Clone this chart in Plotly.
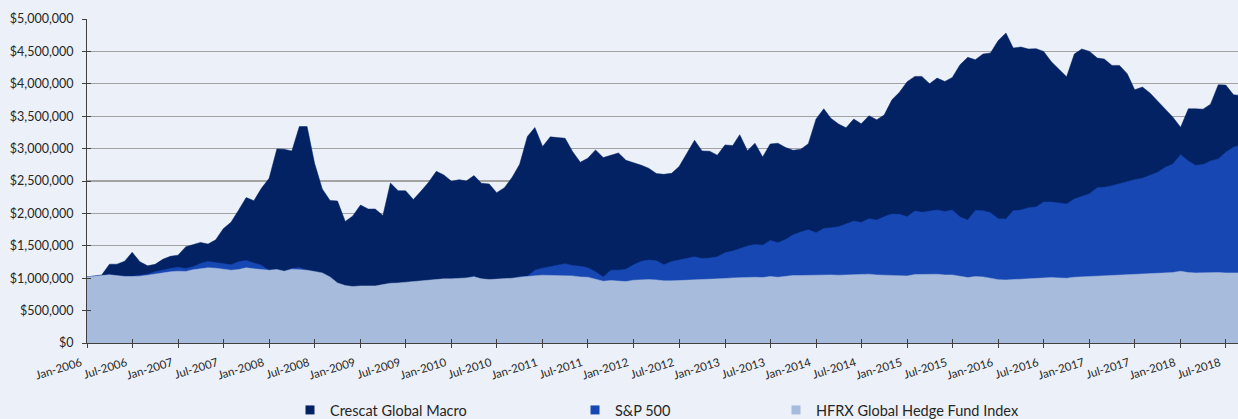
import pandas as pd
import plotly.graph_objects as go

# Monthly observations, Jan-2006 .. Sep-2018 (values in $ thousands)
months = pd.date_range("2006-01-01", periods=153, freq="MS")

crescat_k = [
    1020, 1031, 1050, 1216, 1216, 1263, 1400, 1253, 1191, 1214,
    1292, 1337, 1356, 1485, 1515, 1552, 1526, 1593, 1763, 1863,
    2052, 2245, 2196, 2387, 2541, 2995, 2990, 2964, 3340, 3340,
    2773, 2376, 2201, 2191, 1876, 1959, 2129, 2067, 2067, 1969,
    2469, 2351, 2348, 2214, 2346, 2480, 2650, 2593, 2495, 2521,
    2500, 2583, 2464, 2454, 2320, 2397, 2557, 2758, 3186, 3325,
    3031, 3181, 3170, 3160, 2954, 2789, 2851, 2980, 2861, 2892,
    2933, 2820, 2784, 2742, 2696, 2614, 2603, 2619, 2722, 2923,
    3129, 2964, 2959, 2897, 3057, 3047, 3215, 2966, 3083, 2870,
    3070, 3083, 3016, 2975, 2990, 3075, 3458, 3614, 3469, 3380,
    3320, 3456, 3382, 3508, 3444, 3518, 3753, 3868, 4033, 4114,
    4114, 4000, 4088, 4036, 4098, 4294, 4408, 4371, 4459, 4475,
    4667, 4784, 4552, 4568, 4537, 4542, 4500, 4340, 4227, 4108,
    4459, 4537, 4500, 4397, 4381, 4284, 4284, 4155, 3908, 3949,
    3856, 3737, 3598, 3485, 3328, 3614, 3614, 3609, 3686, 3985,
    3980, 3830, 3820,
]

sp500_k = [
    1020, 1030, 1035, 1055, 1037, 1027, 1028, 1045, 1062, 1098,
    1129, 1150, 1170, 1150, 1175, 1227, 1258, 1237, 1217, 1206,
    1253, 1273, 1235, 1201, 1120, 1130, 1100, 1150, 1165, 1115,
    1095, 1000, 880, 780, 720, 725, 690, 610, 650, 710,
    750, 760, 810, 835, 870, 900, 890, 910, 875, 900,
    985, 1031, 950, 890, 945, 880, 955, 1021, 1031, 1124,
    1155, 1180, 1191, 1222, 1196, 1185, 1160, 1098, 1020, 1124,
    1124, 1139, 1206, 1263, 1279, 1268, 1206, 1258, 1279, 1310,
    1330, 1304, 1310, 1330, 1392, 1418, 1459, 1495, 1521, 1510,
    1583, 1547, 1598, 1670, 1712, 1748, 1701, 1768, 1779, 1794,
    1835, 1882, 1861, 1918, 1897, 1949, 1990, 1985, 1949, 2036,
    2016, 2031, 2052, 2031, 2052, 1944, 1897, 2046, 2041, 2010,
    1918, 1913, 2041, 2052, 2088, 2098, 2175, 2175, 2165, 2144,
    2221, 2263, 2304, 2397, 2402, 2428, 2459, 2480, 2521, 2541,
    2583, 2634, 2712, 2763, 2907, 2809, 2742, 2753, 2809, 2840,
    2943, 3021, 3057,
]

hfrx_k = [
    1020, 1025, 1040, 1052, 1036, 1026, 1026, 1030, 1046, 1067,
    1082, 1098, 1108, 1103, 1129, 1150, 1160, 1155, 1145, 1124,
    1134, 1160, 1145, 1134, 1124, 1134, 1108, 1139, 1134, 1124,
    1103, 1082, 1020, 927, 886, 871, 881, 876, 881, 901,
    922, 927, 937, 952, 969, 974, 985, 990, 990, 995,
    1005, 1021, 990, 979, 985, 990, 1000, 1015, 1021, 1036,
    1046, 1046, 1041, 1041, 1035, 1020, 1015, 985, 954, 964,
    954, 948, 969, 979, 979, 974, 959, 959, 964, 969,
    969, 969, 974, 979, 995, 1005, 1010, 1020, 1015, 1010,
    1026, 1015, 1031, 1041, 1041, 1046, 1046, 1057, 1051, 1046,
    1051, 1057, 1057, 1062, 1051, 1046, 1043, 1040, 1035, 1056,
    1061, 1061, 1061, 1051, 1051, 1030, 1009, 1025, 1020, 999,
    978, 973, 978, 984, 994, 994, 1009, 1009, 1005, 1000,
    1015, 1020, 1031, 1041, 1041, 1046, 1051, 1051, 1062, 1067,
    1072, 1077, 1082, 1087, 1108, 1087, 1082, 1087, 1087, 1087,
    1082, 1082, 1082,
]

series_names = ["Crescat Global Macro", "S&P 500", "HFRX Global Hedge Fund Index"]
series_values = [crescat_k, sp500_k, hfrx_k]
series_colors = ["#022264", "#1747B2", "#A7BBDD"]

y_ticks = list(range(0, 5_000_001, 500_000))
y_ticktext = [f"${v:,}" for v in y_ticks]

FONT = "Lato"
TXT = "#262626"

fig = go.Figure()

for name, vals, col in zip(series_names, series_values, series_colors):
    fig.add_trace(go.Scatter(
        x=months, y=[v * 1000 for v in vals], name=name,
        mode="lines", line=dict(width=0.5, color=col),
        fill="tozeroy", fillcolor=col, showlegend=False,
    ))

# legend entries (square swatches), each in its own legend box
legend_px = [290, 575, 776]
legend_ids = ["legend", "legend2", "legend3"]
for name, col, lid in zip(series_names, series_colors, legend_ids):
    fig.add_trace(go.Scatter(
        x=[None], y=[None], name=name, mode="markers",
        marker=dict(symbol="square", size=9, color=col),
        legend=lid, showlegend=True,
    ))

# overlay axes to give tick marks that cross the axis lines
fig.add_trace(go.Scatter(x=[None], y=[None], xaxis="x2", yaxis="y2",
                         showlegend=False, hoverinfo="skip"))

x_range = ["2006-01-01", "2018-08-19"]
ML, MR, MT, MB = 87, 0, 19, 76
W, H = 1238, 419

fig.update_layout(
    width=W, height=H,
    margin=dict(l=ML, r=MR, t=MT, b=MB, pad=0, autoexpand=False),
    paper_bgcolor="#ECF0F8", plot_bgcolor="#ECF0F8",
    font=dict(family=FONT, size=12, color=TXT),
    xaxis=dict(
        type="date", range=x_range, tick0="2006-01-01", dtick="M6",
        tickformat="%b-%Y", tickangle=-17, ticks="outside", ticklen=4,
        tickcolor="#404040", showline=True, linecolor="#404040", linewidth=1,
        showgrid=False, zeroline=False, tickfont=dict(size=11.5, color=TXT),
        ticklabelshift=-6, ticklabelstandoff=4, automargin=False,
    ),
    yaxis=dict(
        range=[0, 5_000_000], tickvals=y_ticks, ticktext=y_ticktext,
        ticks="outside", ticklen=4, tickcolor="#404040",
        showline=True, linecolor="#404040", linewidth=1,
        showgrid=True, gridcolor="#A3A3A3", gridwidth=1.3, zeroline=False,
        tickfont=dict(size=12.5, color=TXT), ticklabelstandoff=6,
        automargin=False,
    ),
    xaxis2=dict(
        type="date", range=x_range, tick0="2006-01-01", dtick="M6",
        overlaying="x", anchor="y2", ticks="inside", ticklen=4,
        tickcolor="#404040", showticklabels=False, showgrid=False,
        showline=False, zeroline=False, automargin=False,
    ),
    yaxis2=dict(
        range=[0, 5_000_000], tickvals=y_ticks, overlaying="y", anchor="x2",
        ticks="inside", ticklen=4, tickcolor="#404040", showticklabels=False,
        showgrid=False, showline=False, zeroline=False, automargin=False,
    ),
    hovermode=False,
)

for lid, px in zip(legend_ids, legend_px):
    fig.update_layout({lid: dict(
        x=px / W, xref="container", y=1 - 410 / H, yref="container",
        xanchor="left", yanchor="middle",
        orientation="h", bgcolor="rgba(0,0,0,0)", borderwidth=0,
        font=dict(family=FONT, size=14.5, color=TXT),
    )})

fig.write_html(
    "out.html",
    config={"displayModeBar": False, "staticPlot": True},
    post_script="document.body.style.margin='0';document.body.style.padding='0';",
)
